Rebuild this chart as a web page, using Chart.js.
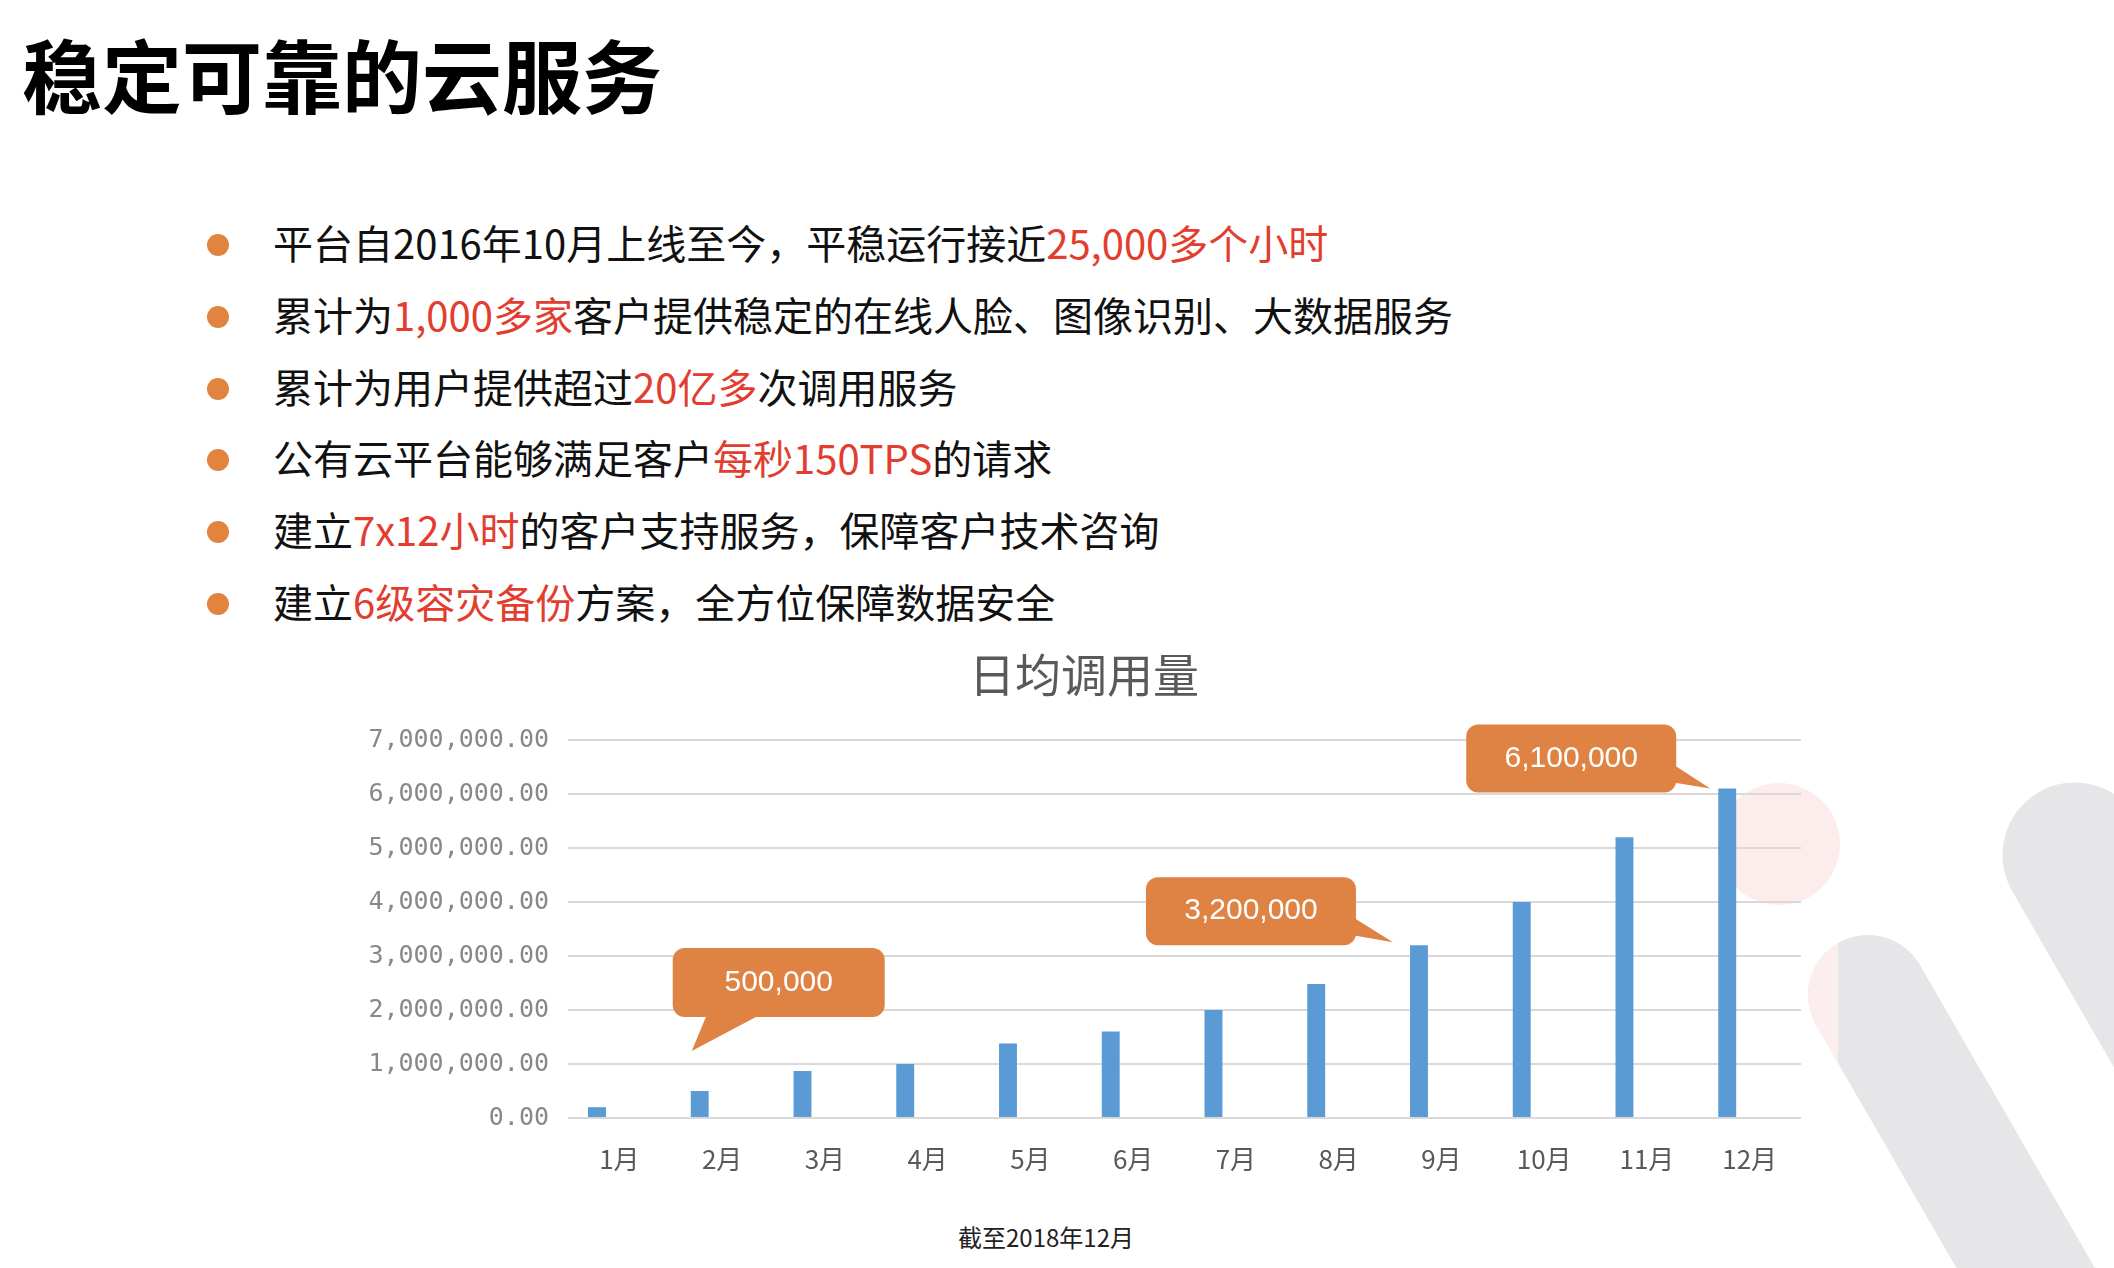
<!DOCTYPE html>
<html>
<head>
<meta charset="utf-8">
<script src="https://cdn.jsdelivr.net/npm/chart.js@4.4.0/dist/chart.umd.min.js"></script>
<style>
html,body{margin:0;padding:0;background:#fff;width:2114px;height:1268px;overflow:hidden;font-family:"Noto Sans CJK SC","Noto Sans",sans-serif;}
#bg{position:absolute;left:0;top:0;width:2114px;height:1268px;}
#title{position:absolute;left:22px;top:15px;font-size:80px;font-weight:700;color:#000;line-height:1.448;white-space:nowrap;}
#list{position:absolute;left:0;top:207px;width:1600px;}
.row{position:relative;height:71.8px;font-size:40px;color:#111;white-space:nowrap;}
.row .dot{position:absolute;left:207px;top:27px;width:22px;height:22px;border-radius:50%;background:#E0843F;}
.row .txt{position:absolute;left:273px;top:0;line-height:71.8px;}
.hl{color:#E23D2E;}
#wrap{position:absolute;left:360px;top:640px;width:1460px;height:560px;}
#note{position:absolute;left:846px;width:400px;top:1222px;line-height:30px;font-size:24px;color:#222;text-align:center;white-space:nowrap;}
</style>
</head>
<body>
<svg id="bg" width="2114" height="1268" viewBox="0 0 2114 1268">
  <defs>
    <clipPath id="leftcut"><rect x="0" y="0" width="1838" height="1268"/></clipPath>
  </defs>
  <circle cx="1779" cy="844" r="61" fill="#FCECEC"/>
  <line x1="2075" y1="855" x2="2425" y2="1461" stroke="#E6E6E8" stroke-width="145" stroke-linecap="round"/>
  <line x1="1868" y1="995" x2="2218" y2="1601" stroke="#E6E6E8" stroke-width="120" stroke-linecap="round"/>
  <line x1="1868" y1="995" x2="2218" y2="1601" stroke="#FCEEEE" stroke-width="120" stroke-linecap="round" clip-path="url(#leftcut)"/>
</svg>

<div id="title">稳定可靠的云服务</div>
<div id="list">
  <div class="row"><span class="dot"></span><span class="txt">平台自2016年10月上线至今，平稳运行接近<span class="hl">25,000多个小时</span></span></div>
  <div class="row"><span class="dot"></span><span class="txt">累计为<span class="hl">1,000多家</span>客户提供稳定的在线人脸、图像识别、大数据服务</span></div>
  <div class="row"><span class="dot"></span><span class="txt">累计为用户提供超过<span class="hl">20亿多</span>次调用服务</span></div>
  <div class="row"><span class="dot"></span><span class="txt">公有云平台能够满足客户<span class="hl">每秒150TPS</span>的请求</span></div>
  <div class="row"><span class="dot"></span><span class="txt">建立<span class="hl">7x12小时</span>的客户支持服务，保障客户技术咨询</span></div>
  <div class="row"><span class="dot"></span><span class="txt">建立<span class="hl">6级容灾备份</span>方案，全方位保障数据安全</span></div>
</div>

<div id="wrap"><canvas id="c" width="1460" height="560"></canvas></div>
<div id="note">截至2018年12月</div>

<script>
// ---- data ----
const months = ['1月','2月','3月','4月','5月','6月','7月','8月','9月','10月','11月','12月'];
const dailyCalls = [200000, 500000, 870000, 1000000, 1380000, 1600000, 2000000, 2480000, 3200000, 4000000, 5200000, 6100000];
const chartTitle = '日均调用量';
const yMin = 0;
const yMax = 7000000;
const yStep = 1000000;
const calloutIndex = [1, 8, 11];

// ---- callout styling (offsets from the bar top, in px) ----
const calloutShapes = [
  {box:[-27,-143,212,69], tail:[[7,-76],[-8,-40],[60,-76]]},
  {box:[-273,-68,210,68], tail:[[-66,-28],[-26,-3],[-66,-10]]},
  {box:[-261,-64,210,68], tail:[[-54,-24],[-17,0],[-54,-6]]}
];

const calloutPlugin = {
  id: 'callouts',
  afterDatasetsDraw(chart) {
    const ctx = chart.ctx;
    const meta = chart.getDatasetMeta(0);
    ctx.save();
    calloutIndex.forEach((idx, k) => {
      const el = meta.data[idx];
      const bx = el.x, by = el.y;
      const s = calloutShapes[k];
      const [dx, dy, w, h] = s.box;
      ctx.fillStyle = '#DF8344';
      ctx.beginPath();
      ctx.roundRect(bx + dx, by + dy, w, h, 12);
      ctx.fill();
      ctx.beginPath();
      ctx.moveTo(bx + s.tail[0][0], by + s.tail[0][1]);
      ctx.lineTo(bx + s.tail[1][0], by + s.tail[1][1]);
      ctx.lineTo(bx + s.tail[2][0], by + s.tail[2][1]);
      ctx.closePath();
      ctx.fill();
      ctx.fillStyle = '#ffffff';
      ctx.font = '30px "Liberation Sans", Arial, sans-serif';
      ctx.textAlign = 'center';
      ctx.textBaseline = 'middle';
      ctx.fillText(dailyCalls[idx].toLocaleString('en-US'), bx + dx + w / 2, by + dy + h / 2);
    });
    ctx.restore();
  }
};

new Chart(document.getElementById('c'), {
  type: 'bar',
  data: {
    labels: months,
    datasets: [
      {label: chartTitle, data: dailyCalls, backgroundColor: '#5B9BD5', borderWidth: 0,
       categoryPercentage: 0.872, barPercentage: 0.40},
      {label: '', data: [], backgroundColor: 'rgba(0,0,0,0)',
       categoryPercentage: 0.872, barPercentage: 0.40}
    ]
  },
  options: {
    responsive: false,
    animation: false,
    events: [],
    layout: {padding: {left: 7, right: 19, top: 0, bottom: 0}},
    plugins: {
      legend: {display: false},
      tooltip: {enabled: false},
      title: {
        display: true,
        text: chartTitle,
        color: '#595959',
        font: {family: '"Noto Sans CJK SC", sans-serif', size: 46, weight: 'normal', lineHeight: 1.2},
        padding: {top: 6.5, bottom: 38.3}
      }
    },
    scales: {
      x: {
        grid: {display: false},
        border: {display: false},
        ticks: {
          color: '#595959',
          padding: 18,
          font: {family: '"Noto Sans CJK SC", sans-serif', size: 26, lineHeight: 1.2},
          maxRotation: 0, autoSkip: false
        },
        afterFit(s) { s.height = 82; }
      },
      y: {
        min: yMin,
        max: yMax,
        border: {display: false},
        grid: {color: '#D9D9D9', lineWidth: 2, drawTicks: false},
        ticks: {
          stepSize: yStep,
          color: '#888888',
          padding: 19,
          font: {family: '"DejaVu Sans Mono", monospace', size: 25},
          callback: v => Number(v).toLocaleString('en-US', {minimumFractionDigits: 2, maximumFractionDigits: 2})
        },
        afterFit(s) { s.width = 201; }
      }
    }
  },
  plugins: [calloutPlugin]
});
</script>
</body>
</html>
